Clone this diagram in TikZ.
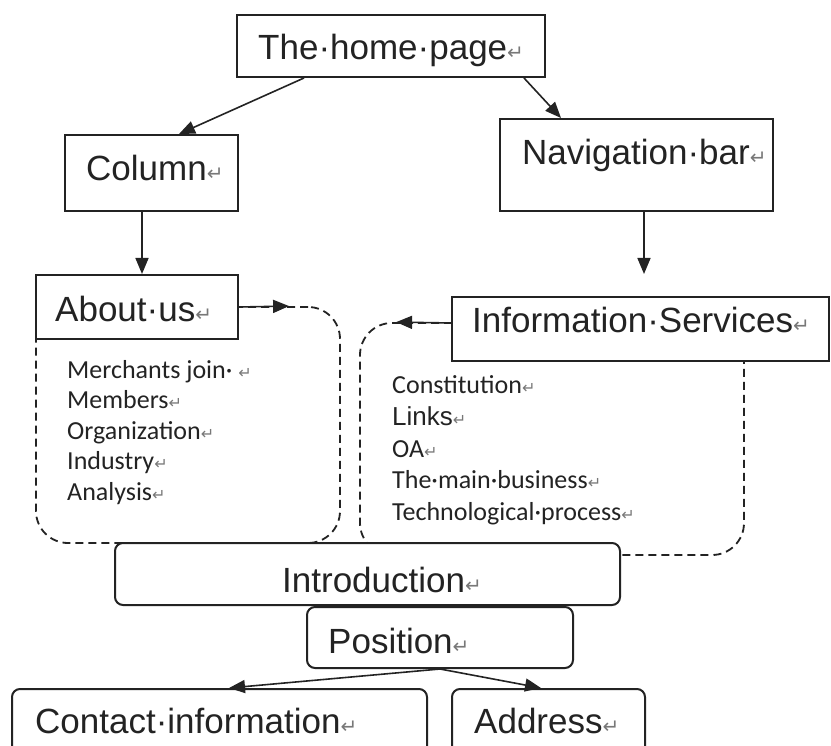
\documentclass[tikz,border=0pt]{standalone}
\usepackage{fontspec}
\setmainfont{Liberation Sans}
\newfontfamily\listfont{Carlito}
\newfontfamily\markfont{DejaVu Sans}
\usepackage{xcolor}
\definecolor{Ink}{RGB}{35,35,35}
\definecolor{Mark}{RGB}{120,120,120}
\usepackage{tikz}
\usetikzlibrary{arrows.meta}
\newcommand{\Ret}[1][20]{{\markfont\fontsize{#1}{#1}\selectfont\textcolor{Mark}{↵}}}
\tikzstyle{Box}=[draw=Ink,fill=white,line width=2pt,inner sep=0pt]
\tikzstyle{RBox}=[Box,rounded corners=8pt]
\tikzstyle{Group}=[draw=Ink,line width=1.8pt,dash pattern=on 8pt off 5pt,
rounded corners=32pt,inner sep=0pt]
\tikzstyle{Edge}=[draw=Ink,line width=1.6pt,-{Triangle[length=16pt,width=13pt]}]
\tikzstyle{Label}=[anchor=base west,inner sep=0pt,text=Ink,
font=\fontsize{35}{40}\selectfont]
\tikzstyle{Item}=[anchor=base west,inner sep=0pt,text=Ink,
font=\listfont\fontsize{26}{30}\selectfont]

\begin{document}
\begin{tikzpicture}[x=1pt,y=-1pt]
        \clip(0,0)rectangle(831,746);
        % dashed groups first, the boxes cover them
        \node[Group,minimum width=304pt,minimum height=236pt](grpA)at(188,425){};
        \node[Group,minimum width=384pt,minimum height=232pt](grpB)at(552,439){};
        \node[Box,minimum width=308pt,minimum height=62pt](home)at(391,46){};
        \node[Box,minimum width=173pt,minimum height=76pt](col)at(151.5,173){};
        \node[Box,minimum width=273pt,minimum height=92pt](nav)at(636.5,165){};
        \node[Box,minimum width=202pt,minimum height=64pt](about)at(137,307){};
        \node[Box,minimum width=377pt,minimum height=64pt](info)at(640.5,329){};
        \node[RBox,minimum width=505pt,minimum height=62pt](intro)at(367.5,574){};
        \node[RBox,minimum width=266pt,minimum height=61pt](pos)at(440,637.5){};
        \node[RBox,minimum width=415pt,minimum height=76pt](contact)at(219.5,727){};
        \node[RBox,minimum width=193pt,minimum height=76pt](addr)at(548.5,727){};
        \node[Label](tHome)at(258,60){The·home·page\Ret};
        \node[Label](tCol)at(86,181){Column\Ret};
        \node[Label](tNav)at(522,165){Navigation·bar\Ret};
        \node[Label](tAbout)at(55,322){About·us\Ret};
        \node[Label](tInfo)at(472,333){Information·Services\Ret};
        \node[Label](tIntro)at(282,592){Introduction\Ret};
        \node[Label](tPos)at(328,653){Position\Ret};
        \node[Label](tContact)at(35,733){Contact·information\Ret};
        \node[Label](tAddr)at(474,733){Address\Ret};
        \node[Item](a1)at(67,378){Merchants join·\ \Ret[16]};
        \node[Item](a2)at(67,408.5){Members\Ret[16]};
        \node[Item](a3)at(67,439){Organization\Ret[16]};
        \node[Item](a4)at(67,469.5){Industry\Ret[16]};
        \node[Item](a5)at(67,500){Analysis\Ret[16]};
        \node[Item](b1)at(392,394){Constitution\Ret[16]};
        \node[Item,font=\fontsize{26}{30}\selectfont](b2)at(392,425.5){Links\Ret[16]};
        \node[Item](b3)at(392,457){OA\Ret[16]};
        \node[Item](b4)at(392,488.5){The·main·business\Ret[16]};
        \node[Item](b5)at(392,520){Technological·process\Ret[16]};
        \draw[Edge]([xshift=68pt]home.south west)--([xshift=115pt]col.north west);
        \draw[Edge]([xshift=288pt]home.south west)--([xshift=62pt]nav.north west);
        \draw[Edge]([xshift=78pt]col.south west)--([xshift=107pt]about.north west);
        \draw[Edge,shorten >=22pt]([xshift=145pt]nav.south west)
            --([xshift=193pt]info.north west);
        \draw[Edge](about.east)--([xshift=254pt]grpA.north west);
        \draw[Edge]([yshift=6pt]info.west)--([xshift=37pt]grpB.north west);
        \draw[Edge](pos.south)--([xshift=218pt]contact.north west);
        \draw[Edge](pos.south)--([xshift=90pt]addr.north west);
    \end{tikzpicture}
\end{document}
